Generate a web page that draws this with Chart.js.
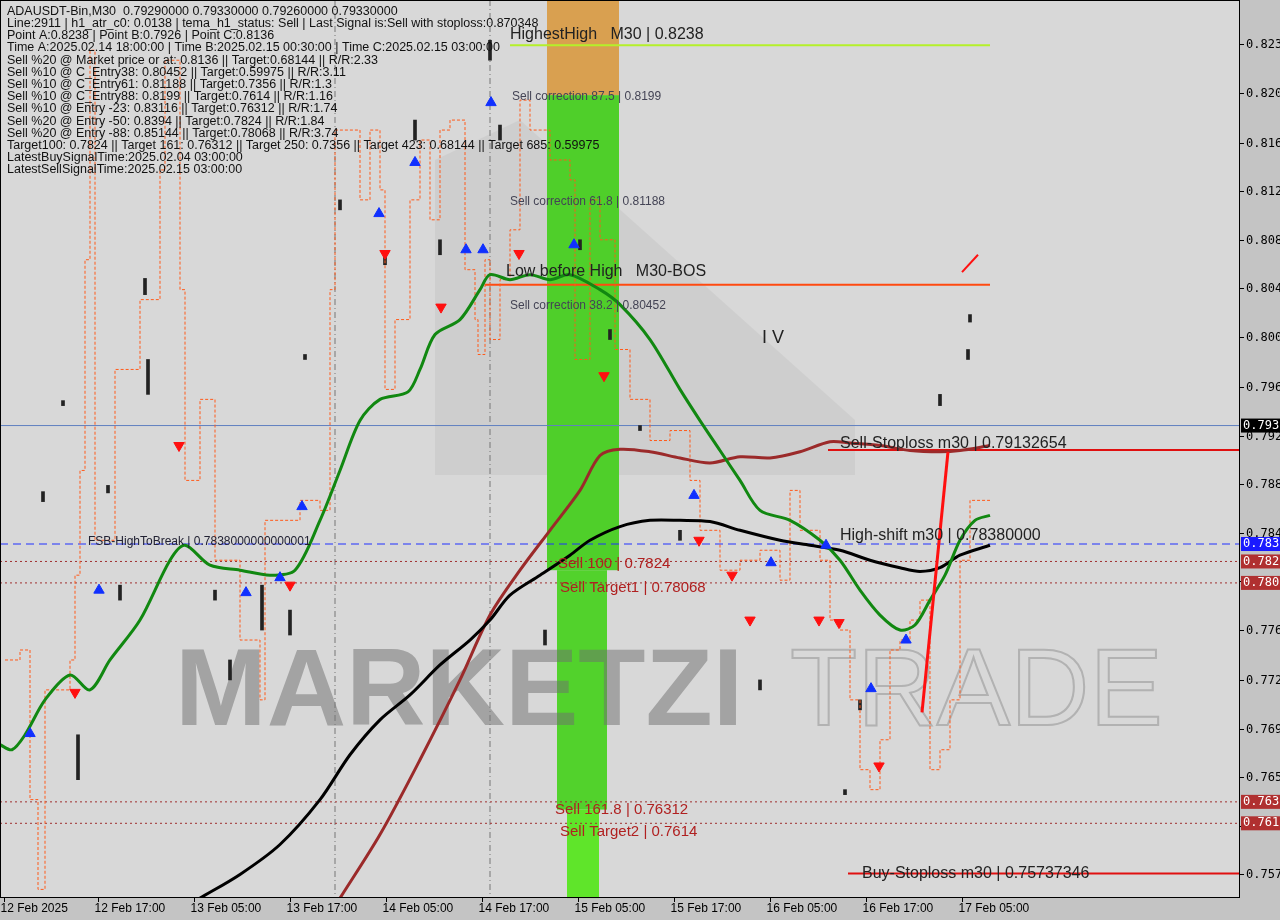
<!DOCTYPE html>
<html><head><meta charset="utf-8">
<script src="https://cdn.jsdelivr.net/npm/chart.js@4.4.1/dist/chart.umd.min.js"></script>
<style>html,body{margin:0;padding:0;background:#c4c4c4;}#w{width:1280px;height:920px;}</style>
</head><body><div id="w"><canvas id="c" width="1280" height="920"></canvas></div>
<script>
const xTickIdx=[1,24.5,48.5,72.5,96.5,120.5,144.5,168.5,192.5,216.5,240.5];
const xTickLabels=["12 Feb 2025","12 Feb 17:00","13 Feb 05:00","13 Feb 17:00","14 Feb 05:00","14 Feb 17:00","15 Feb 05:00","15 Feb 17:00","16 Feb 05:00","16 Feb 17:00","17 Feb 05:00"];
const yTickVals=[0.8239,0.8200,0.8160,0.8121,0.8082,0.8043,0.8004,0.7964,0.7925,0.7886,0.7847,0.7808,0.7769,0.7729,0.7690,0.7651,0.7612,0.7573];
const yTickLabels=["0.8239","0.8200","0.8160","0.8121","0.8082","0.8043","0.8004","0.7964","0.7925","0.7886","0.7847","0.7808","0.7769","0.7729","0.7690","0.7651","0.7612","0.7573"];
const greenMA=[[0,0.7677],[3,0.7673],[6.25,0.7685],[11.25,0.7713],[17.5,0.7733],[22.5,0.7721],[27.5,0.7745],[35,0.7777],[42.5,0.7825],[46.25,0.7837],[52.5,0.7821],[60,0.7817],[67.5,0.7813],[73.75,0.7817],[80,0.7857],[85,0.7897],[90,0.7937],[95,0.7954],[102,0.7960],[105,0.7978],[108.75,0.8006],[115,0.8018],[120,0.8042],[122.5,0.8054],[127.5,0.8050],[132.5,0.8054],[137.5,0.8050],[142.5,0.8054],[150,0.8042],[155,0.8030],[162.5,0.8002],[170,0.7962],[175,0.7937],[180,0.7913],[185,0.7889],[190,0.7865],[197.5,0.7857],[205,0.7841],[210,0.7825],[215,0.7801],[220,0.7781],[225,0.7769],[228.75,0.7773],[232.5,0.7793],[236.25,0.7813],[240,0.7841],[243.75,0.7857],[247.5,0.7861]];
const blackMA=[[50,0.7554],[60,0.7573],[70,0.7597],[80,0.7633],[87.5,0.7669],[95,0.7697],[102.5,0.7717],[110,0.7741],[117.5,0.7761],[122.5,0.7777],[127.5,0.7797],[135,0.7813],[142.5,0.7829],[147.5,0.7841],[155,0.7852],[162.5,0.7857],[170,0.7857],[177.5,0.7856],[185,0.7849],[195,0.7841],[202.5,0.7837],[210,0.7833],[217.5,0.7825],[225,0.7819],[230,0.7816],[235,0.7819],[240,0.7829],[247.5,0.7837]];
const brownMA=[[85,0.7554],[95,0.7605],[105,0.7665],[115,0.7729],[122.5,0.7781],[130,0.7817],[137.5,0.7849],[145,0.7881],[150,0.7909],[155,0.7914],[162.5,0.7912],[170,0.7907],[177.5,0.7903],[185,0.7908],[192.5,0.7907],[200,0.7912],[207.5,0.7920],[212.5,0.7919],[220,0.7917],[227.5,0.7913],[235,0.7912],[240,0.7913],[247.5,0.7917]];
const orangeStep=[[1.25,0.7745],[5,0.7753],[7.5,0.7633],[9.5,0.7561],[11.25,0.7721],[17.5,0.7745],[18.75,0.7813],[20,0.7897],[21.25,0.8066],[22.5,0.8234],[23.75,0.7841],[27.5,0.7841],[28.75,0.7978],[35,0.8034],[40,0.8138],[41.25,0.8226],[45,0.8042],[46.25,0.7889],[50,0.7954],[53.75,0.7825],[60,0.7761],[65,0.7713],[66.25,0.7857],[72.5,0.7857],[75,0.7873],[80,0.7865],[82.5,0.8042],[83.75,0.8170],[90,0.8114],[92.5,0.8170],[95,0.8122],[96.25,0.7962],[98.75,0.8018],[102.5,0.8114],[105,0.8162],[107.5,0.8098],[110,0.8170],[112.5,0.8178],[116.25,0.8058],[118.75,0.8018],[119.5,0.7990],[121.25,0.8066],[122.5,0.8002],[125,0.8050],[127.5,0.8090],[130,0.8194],[132.5,0.8170],[137.5,0.8146],[142.5,0.8130],[143.75,0.7986],[147.5,0.8114],[150,0.8082],[153.75,0.7994],[157.5,0.7954],[162.5,0.7921],[167.5,0.7929],[172.5,0.7889],[175,0.7849],[180,0.7817],[185,0.7825],[190,0.7833],[195,0.7809],[197.5,0.7881],[200,0.7849],[205,0.7825],[207.5,0.7777],[210,0.7769],[212.5,0.7713],[215,0.7657],[217.5,0.7641],[220,0.7681],[222.5,0.7753],[225,0.7761],[227.5,0.7777],[230,0.7793],[232.5,0.7657],[235,0.7673],[237.5,0.7713],[240,0.7825],[242.5,0.7873],[245,0.7873],[247.5,0.7873]];
const candles=[[10.75,0.7872,0.7880],[15.75,0.7949,0.7953],[19.5,0.7649,0.7685],[27,0.7879,0.7885],[30,0.7793,0.7805],[36.25,0.8038,0.8051],[37,0.7958,0.7986],[53.75,0.7793,0.7801],[57.5,0.7729,0.7745],[65.5,0.7769,0.7805],[72.5,0.7765,0.7785],[76.25,0.7986,0.7990],[85,0.8106,0.8114],[96.25,0.8062,0.8070],[103.75,0.8162,0.8178],[110,0.8070,0.8082],[122.5,0.8226,0.8242],[125,0.8162,0.8174],[136.25,0.7757,0.7769],[145,0.8074,0.8082],[152.5,0.8002,0.8010],[160,0.7929,0.7933],[170,0.7841,0.7849],[190,0.7721,0.7729],[211.25,0.7637,0.7641],[215,0.7705,0.7713],[235,0.7949,0.7958],[242,0.7986,0.7994],[242.5,0.8016,0.8022]];
const buyArrowIdx=[7.5,24.75,61.5,70,75.5,94.75,103.75,116.5,120.75,122.75,143.5,173.5,192.75,206.5,217.75,226.5];
const buyArrowPrice=[0.7686,0.7801,0.7799,0.7811,0.7868,0.8103,0.8144,0.8074,0.8074,0.8192,0.8078,0.7877,0.7823,0.7837,0.7722,0.7761];
const sellArrowIdx=[18.75,44.75,72.5,96.25,110.25,129.75,151,174.75,183,187.5,204.75,209.75,219.75];
const sellArrowPrice=[0.7719,0.7917,0.7805,0.8071,0.8028,0.8071,0.7973,0.7841,0.7813,0.7777,0.7777,0.7775,0.7660];
const zones=[[136.75,154.75,0.8198,0.8274,"#d9a050"],[136.75,154.75,0.7817,0.8198,"#4fcf2a"],[139.25,151.75,0.7625,0.7817,"#52d22c"],[141.75,149.75,0.7554,0.7625,"#5fe52a"]];
const hlines=[[127.5,247.5,0.8238,"#b4f02a",2,[]],[121.25,247.5,0.8046,"#ff4a10",2,[]],[207,310,0.79133,"#e01010",2,[]],[212,310,0.75737,"#e01010",2,[]],[0,310,0.7838,"#2030ff",1,[8,5]],[0,310,0.7933,"#6080c0",1,[]],[0,310,0.7824,"#a03030",1,[2,3]],[0,310,0.78068,"#a03030",1,[2,3]],[0,310,0.76312,"#a03030",1,[2,3]],[0,310,0.7614,"#a03030",1,[2,3]]];
const segs=[[230.5,0.7703,237,0.7912,"#ff1010",3],[240.5,0.8056,244.5,0.8070,"#ff1010",2]];
const vlines=[83.75,122.5];
const labels=[[127.5,0.8240,"HighestHigh   M30 | 0.8238","#222",16],[128,0.8192,"Sell correction 87.5 | 0.8199","#445",12],[127.5,0.8108,"Sell correction 61.8 | 0.81188","#445",12],[126.5,0.8050,"Low before High   M30-BOS","#222",16],[127.5,0.8024,"Sell correction 38.2 | 0.80452","#445",12],[190.5,0.7996,"I V","#222",18],[210,0.7912,"Sell-Stoploss m30 | 0.79132654","#222",16],[22,0.7835,"FSB-HighToBreak | 0.7838000000000001","#223",12],[210,0.7838,"High-shift m30 | 0.78380000","#222",16],[139.5,0.7816,"Sell 100 | 0.7824","#b02020",15],[140,0.7797,"Sell Target1 | 0.78068","#b02020",15],[138.75,0.7619,"Sell 161.8 | 0.76312","#b02020",15],[140,0.7601,"Sell Target2 | 0.7614","#b02020",15],[215.5,0.7567,"Buy-Stoploss m30 | 0.75737346","#222",16]];
const boxLabels=[[0.7933,"0.793","#000"],[0.7838,"0.783","#1a1aff"],[0.7824,"0.782","#b03030"],[0.78068,"0.780","#b03030"],[0.76312,"0.763","#b03030"],[0.7614,"0.761","#b03030"]];
const infoLines=["ADAUSDT-Bin,M30  0.79290000 0.79330000 0.79260000 0.79330000","Line:2911 | h1_atr_c0: 0.0138 | tema_h1_status: Sell | Last Signal is:Sell with stoploss:0.870348","Point A:0.8238 | Point B:0.7926 | Point C:0.8136","Time A:2025.02.14 18:00:00 | Time B:2025.02.15 00:30:00 | Time C:2025.02.15 03:00:00","Sell %20 @ Market price or at: 0.8136 || Target:0.68144 || R/R:2.33","Sell %10 @ C_Entry38: 0.80452 || Target:0.59975 || R/R:3.11","Sell %10 @ C_Entry61: 0.81188 || Target:0.7356 || R/R:1.3","Sell %10 @ C_Entry88: 0.8199 || Target:0.7614 || R/R:1.16","Sell %10 @ Entry -23: 0.83116 || Target:0.76312 || R/R:1.74","Sell %20 @ Entry -50: 0.8394 || Target:0.7824 || R/R:1.84","Sell %20 @ Entry -88: 0.85144 || Target:0.78068 || R/R:3.74","Target100: 0.7824 || Target 161: 0.76312 || Target 250: 0.7356 || Target 423: 0.68144 || Target 685: 0.59975","LatestBuySignalTime:2025.02.04 03:00:00","LatestSellSignalTime:2025.02.15 03:00:00"];

const toXY=a=>a.map(p=>({x:p[0],y:p[1]}));
const deco={id:'deco',
 beforeDatasetsDraw(ch){const c=ch.ctx,xs=ch.scales.x,ys=ch.scales.y,a=ch.chartArea;
  c.save();c.fillStyle='#d8d8d8';c.fillRect(a.left,a.top,a.width,a.height);
  c.fillStyle='rgba(200,200,200,0.6)';c.beginPath();c.moveTo(435,160);c.lineTo(520,120);c.lineTo(855,420);c.lineTo(855,475);c.lineTo(435,475);c.closePath();c.fill();
  zones.forEach(z=>{c.fillStyle=z[4];const x1=xs.getPixelForValue(z[0]),x2=xs.getPixelForValue(z[1]),y1=ys.getPixelForValue(z[3]),y2=ys.getPixelForValue(z[2]);c.fillRect(x1,y1,x2-x1,y2-y1);});
  c.font='bold 110px "Liberation Sans"';c.fillStyle='rgba(110,110,110,0.5)';c.textBaseline='alphabetic';c.fillText('MARKETZI',175,725);
  c.font='110px "Liberation Sans"';c.strokeStyle='rgba(140,140,140,0.5)';c.lineWidth=2;c.strokeText('TRADE',790,725);
  vlines.forEach(v=>{const x=xs.getPixelForValue(v);c.strokeStyle='#777';c.setLineDash([6,3,1,3]);c.lineWidth=1;c.beginPath();c.moveTo(x,a.top);c.lineTo(x,a.bottom);c.stroke();});
  c.setLineDash([]);
  hlines.forEach(h=>{const y=ys.getPixelForValue(h[2]);c.strokeStyle=h[3];c.lineWidth=h[4];c.setLineDash(h[5]);c.beginPath();c.moveTo(Math.max(a.left,xs.getPixelForValue(h[0])),y);c.lineTo(Math.min(a.right,xs.getPixelForValue(h[1])),y);c.stroke();});
  c.setLineDash([]);c.restore();},
 afterDatasetsDraw(ch){const c=ch.ctx,xs=ch.scales.x,ys=ch.scales.y,a=ch.chartArea;c.save();
  segs.forEach(s=>{c.strokeStyle=s[4];c.lineWidth=s[5];c.beginPath();c.moveTo(xs.getPixelForValue(s[0]),ys.getPixelForValue(s[1]));c.lineTo(xs.getPixelForValue(s[2]),ys.getPixelForValue(s[3]));c.stroke();});
  c.textBaseline='bottom';
  labels.forEach(l=>{c.font=l[4]+'px "Liberation Sans"';c.fillStyle=l[3];c.fillText(l[2],xs.getPixelForValue(l[0]),ys.getPixelForValue(l[1]));});
  c.font='12.5px "Liberation Sans"';c.fillStyle='#111';c.textBaseline='top';
  infoLines.forEach((t,i)=>c.fillText(t,7,5+i*12.2));
  c.strokeStyle='#000';c.lineWidth=1;c.strokeRect(a.left+0.5,a.top+0.5,a.width-1,a.height-1);
  c.font='12px "DejaVu Sans Mono"';c.textBaseline='middle';c.fillStyle='#000';c.strokeStyle='#000';
  yTickVals.forEach((v,i)=>{const y=Math.round(ys.getPixelForValue(v))+0.5;c.beginPath();c.moveTo(a.right,y);c.lineTo(a.right+4,y);c.stroke();c.fillText(yTickLabels[i],a.right+6,y);});
  c.font='12px "Liberation Sans"';c.textBaseline='top';
  xTickIdx.forEach((v,i)=>{const x=Math.round(xs.getPixelForValue(v))+0.5;c.beginPath();c.moveTo(x,a.bottom);c.lineTo(x,a.bottom+4);c.stroke();c.fillText(xTickLabels[i],x-4,a.bottom+5);});
  c.font='12px "DejaVu Sans Mono"';c.textBaseline='middle';
  boxLabels.forEach(b=>{const y=ys.getPixelForValue(b[0]);c.fillStyle=b[2];c.fillRect(a.right+1,y-7,40,14);c.fillStyle='#fff';c.fillText(b[1],a.right+3,y);});
  c.restore();}};

new Chart(document.getElementById('c'),{
 data:{datasets:[
  {type:'bar',data:candles.map(k=>({x:k[0],y:[k[1],k[2]]})),backgroundColor:'#222',barThickness:3,order:5},
  {type:'line',data:toXY(orangeStep),borderColor:'#ff5a1a',borderWidth:1,borderDash:[3,2],stepped:true,pointRadius:0,order:4},
  {type:'line',data:toXY(brownMA),borderColor:'#9b2a2a',borderWidth:3,pointRadius:0,tension:0.3,order:3},
  {type:'line',data:toXY(blackMA),borderColor:'#000',borderWidth:3,pointRadius:0,tension:0.3,order:2},
  {type:'line',data:toXY(greenMA),borderColor:'#118811',borderWidth:3,pointRadius:0,tension:0.3,order:1},
  {type:'scatter',data:buyArrowIdx.map((x,i)=>({x,y:buyArrowPrice[i]})),pointStyle:'triangle',pointRadius:6,backgroundColor:'#1030ff',borderColor:'#1030ff',order:0},
  {type:'scatter',data:sellArrowIdx.map((x,i)=>({x,y:sellArrowPrice[i]})),pointStyle:'triangle',rotation:180,pointRadius:6,backgroundColor:'#ff1010',borderColor:'#ff1010',order:0}
 ]},
 options:{responsive:false,animation:false,layout:{padding:{left:-7,top:-7,right:0,bottom:0},autoPadding:false},
  plugins:{legend:{display:false},tooltip:{enabled:false}},
  scales:{
   x:{type:'linear',min:0,max:310,offset:false,grid:{display:false},border:{display:false},
    afterFit(s){s.height=22;s.paddingLeft=0;s.paddingRight=0;},
    ticks:{display:false}},
   y:{type:'linear',position:'right',min:0.75541,max:0.82743,grid:{display:false},border:{display:false},
    afterFit(s){s.width=40;s.paddingTop=0;s.paddingBottom=0;},
    ticks:{display:false}}
  }},
 plugins:[deco]});
</script></body></html>
